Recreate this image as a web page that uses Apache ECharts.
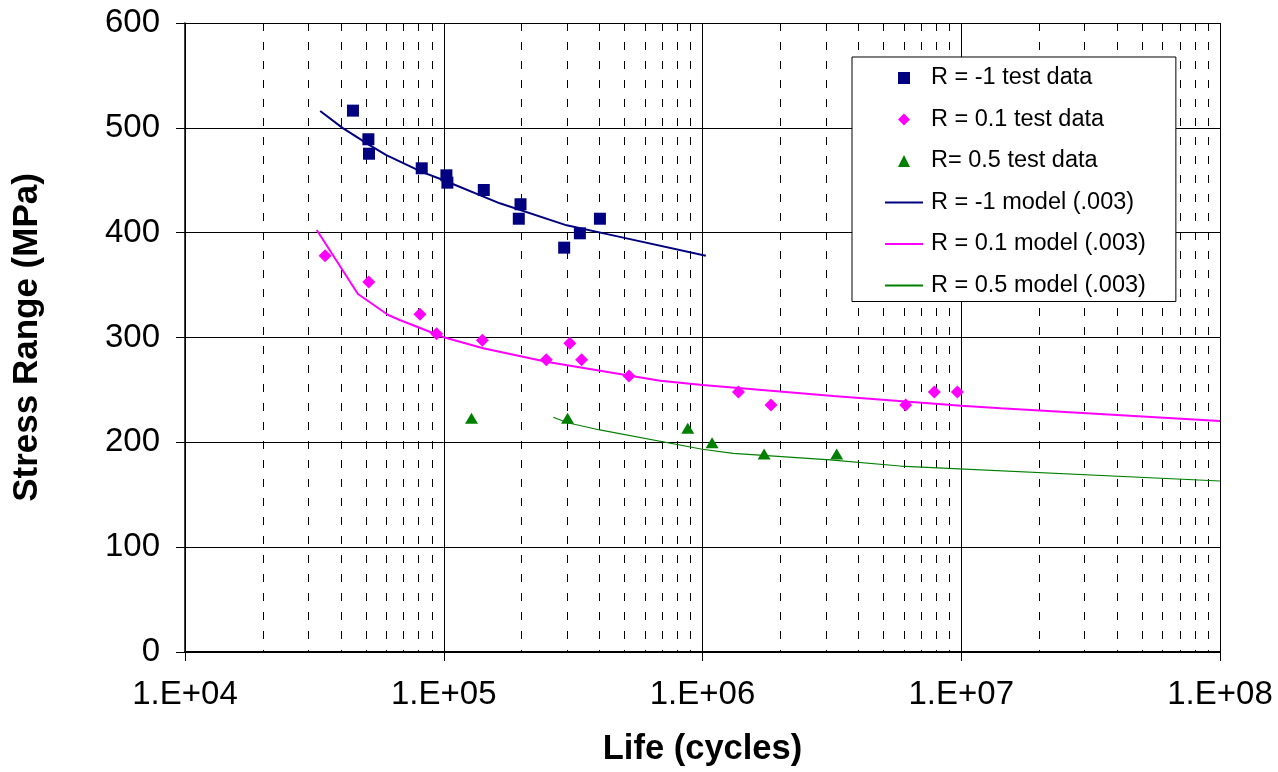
<!DOCTYPE html>
<html><head><meta charset="utf-8">
<script src="https://cdn.jsdelivr.net/npm/echarts@6/dist/echarts.min.js"></script>
<style>html,body{margin:0;padding:0;background:#fff}#c{width:1278px;height:772px}</style>
</head><body><div id="c"></div>
<script>
// ---- data (Life in cycles, Stress range in MPa) ----
const rNeg1TestN = [44580, 51140, 51410, 82200, 102400, 103300, 142800, 198000, 195000, 292000, 335800, 401400];
const rNeg1TestS = [516.4, 489.1, 475.3, 461.4, 454.7, 447.7, 440.7, 427.1, 413.3, 385.7, 399.4, 413.3];

const r01TestN = [34800, 51300, 80900, 93800, 141000, 249000, 307000, 341000, 520000, 1377000, 1840000, 6100000, 7870000, 9660000];
const r01TestS = [378.1, 353.0, 322.1, 303.6, 297.3, 278.8, 294.5, 278.8, 263.3, 248.0, 235.6, 235.6, 248.0, 248.0];

const r05TestN = [128000, 301000, 877000, 1089000, 1730000, 3300000];
const r05TestS = [223.0, 223.0, 213.4, 199.7, 188.9, 188.9];

const rNeg1ModelN = [33300, 40600, 51300, 60000, 82200, 100000, 164700, 298600, 479000, 1030000];
const rNeg1ModelS = [516, 500, 484, 474, 458, 450, 428, 407, 396, 378];

const r01ModelN = [32300, 46600, 61000, 67600, 100000, 142000, 249000, 686000, 1000000, 3200000, 10000000, 14200000, 100000000];
const r01ModelS = [402.6, 341.5, 321.5, 316.7, 300.2, 289.7, 276.9, 258.8, 254.7, 244.2, 235.0, 232.5, 220.4];

const r05ModelN = [265000, 301000, 401000, 998000, 1315000, 3110000, 5800000, 100000000];
const r05ModelS = [223.9, 218.7, 211.8, 193.4, 189.5, 183.2, 177.4, 163.1];

const seriesNames = ['R = -1 test data', 'R = 0.1 test data', 'R= 0.5 test data',
  'R = -1 model (.003)', 'R = 0.1 model (.003)', 'R = 0.5 model (.003)'];
const yTicks = [0, 100, 200, 300, 400, 500, 600];

const pair = (xs, ys) => xs.map((x, i) => [x, ys[i]]);
const FONT = '"Liberation Sans", Arial, sans-serif';
const NAVY = '#000080', MAG = '#FF00FF', GRN = '#008000';
const hiddenSym = {color: 'rgba(0,0,0,0)', opacity: 0, borderWidth: 0};

const chart = echarts.init(document.getElementById('c'), null, {renderer: 'canvas'});
chart.setOption({
  backgroundColor: '#ffffff',
  animation: false,
  textStyle: {fontFamily: FONT, color: '#000'},
  grid: {left: 185, right: 58, top: 23, bottom: 120, containLabel: false},
  legend: {
    orient: 'vertical', left: 852, top: 57,
    padding: [9, 30, 4, 32],
    backgroundColor: '#ffffff', borderColor: '#000', borderWidth: 1,
    itemWidth: 38, itemHeight: 12, itemGap: 17.5, symbolKeepAspect: true,
    textStyle: {fontFamily: FONT, fontSize: 23.5, lineHeight: 24, color: '#000', padding: [0, 0, 0, 3]},
    data: [
      {name: seriesNames[0], icon: 'path://M0,0L10,0L10,10L0,10Z'},
      {name: seriesNames[1], icon: 'path://M5,0L10,5L5,10L0,5Z'},
      {name: seriesNames[2], icon: 'path://M5,0L10,10L0,10Z'},
      {name: seriesNames[3], itemStyle: hiddenSym},
      {name: seriesNames[4], itemStyle: hiddenSym},
      {name: seriesNames[5], itemStyle: hiddenSym}
    ]
  },
  xAxis: {
    type: 'log', logBase: 10, min: 1e4, max: 1e8,
    name: 'Life (cycles)', nameLocation: 'middle', nameGap: 80,
    nameTextStyle: {fontFamily: FONT, fontSize: 34.5, fontWeight: 'bold', color: '#000'},
    axisLine: {show: true, onZero: false, lineStyle: {color: '#000', width: 2}},
    axisTick: {show: true, length: 9, lineStyle: {color: '#000', width: 1}},
    axisLabel: {
      fontFamily: FONT, fontSize: 33, color: '#000', margin: 26,
      formatter: v => '1.E+' + String(Math.round(Math.log10(v))).padStart(2, '0')
    },
    splitLine: {show: true, lineStyle: {color: '#000', width: 1}},
    minorTick: {show: false, splitNumber: 9},
    minorSplitLine: {show: true, lineStyle: {color: '#000', width: 1, type: [8, 11]}}
  },
  yAxis: {
    type: 'value', min: yTicks[0], max: yTicks[yTicks.length - 1], interval: 100,
    name: 'Stress Range (MPa)', nameLocation: 'middle', nameGap: 140,
    nameTextStyle: {fontFamily: FONT, fontSize: 35, fontWeight: 'bold', color: '#000'},
    axisLine: {show: true, lineStyle: {color: '#000', width: 1.5}},
    axisTick: {show: true, length: 9, lineStyle: {color: '#000', width: 1}},
    axisLabel: {fontFamily: FONT, fontSize: 33, color: '#000', margin: 25},
    splitLine: {show: true, lineStyle: {color: '#000', width: 1}}
  },
  series: [
    {name: seriesNames[3], type: 'line', data: pair(rNeg1ModelN, rNeg1ModelS), symbol: 'none', showSymbol: false,
      lineStyle: {color: NAVY, width: 2}, itemStyle: {color: NAVY}, z: 3},
    {name: seriesNames[4], type: 'line', data: pair(r01ModelN, r01ModelS), symbol: 'none', showSymbol: false,
      lineStyle: {color: MAG, width: 2}, itemStyle: {color: MAG}, z: 3},
    {name: seriesNames[5], type: 'line', data: pair(r05ModelN, r05ModelS), symbol: 'none', showSymbol: false,
      lineStyle: {color: GRN, width: 1.2}, itemStyle: {color: GRN}, z: 3},
    {name: seriesNames[0], type: 'scatter', data: pair(rNeg1TestN, rNeg1TestS), symbol: 'rect', symbolSize: 12,
      itemStyle: {color: NAVY, opacity: 1}, z: 4},
    {name: seriesNames[1], type: 'scatter', data: pair(r01TestN, r01TestS), symbol: 'diamond', symbolSize: 13,
      itemStyle: {color: MAG, opacity: 1}, z: 4},
    {name: seriesNames[2], type: 'scatter', data: pair(r05TestN, r05TestS), symbol: 'triangle', symbolSize: [13, 11],
      itemStyle: {color: GRN, opacity: 1}, z: 4}
  ]
});
</script>
</body></html>
